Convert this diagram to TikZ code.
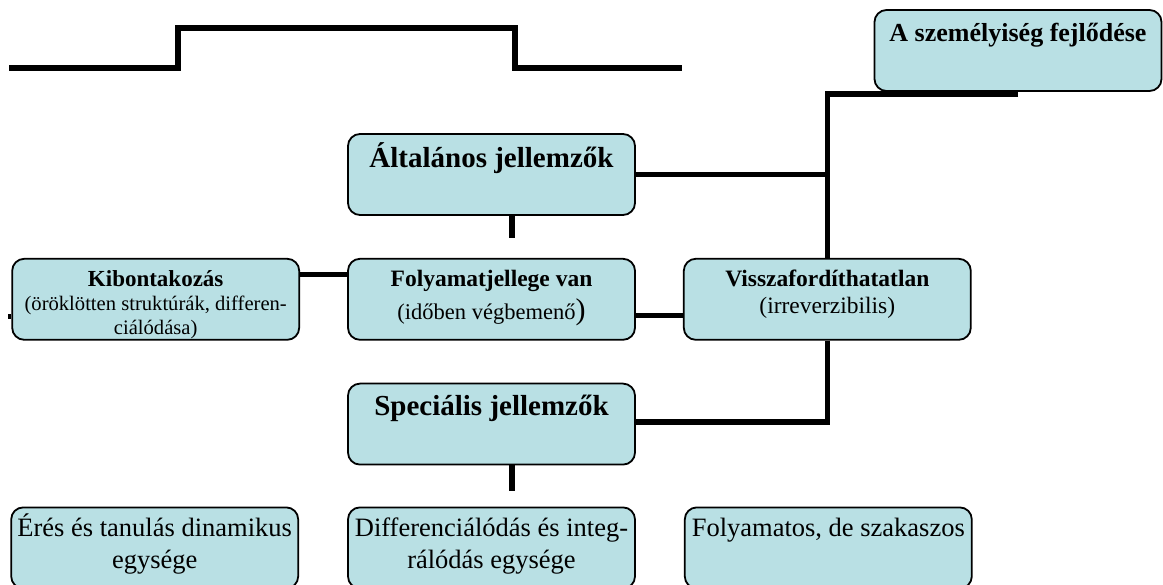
\documentclass[tikz,border=0pt]{standalone}
\usepackage{fontspec}
\setmainfont{Liberation Serif}
\usepackage{tikz}
\usetikzlibrary{positioning}
\definecolor{boxfill}{RGB}{185,224,228}
\newcommand{\boxtext}[3]{\parbox[t][81pt][t]{287pt}{\centering\fontsize{23}{#2}\selectfont\rule{0pt}{#1}#3}}

\begin{document}
\begin{tikzpicture}[x=1pt, y=1pt, node distance=42pt, semithick]
	\tikzstyle{box}=[draw, rounded corners=12pt, fill=boxfill, line width=1.8pt, inner sep=0pt]
	\tikzstyle{conn}=[line width=5.5pt]
	\useasboundingbox (0,0) rectangle (1163,-585);

	\node[box] (szem) at (1018,-50.5) {\boxtext{32pt}{30pt}{\fontsize{26}{30}\selectfont\bfseries A személyiség fejlődése}};
	\node[box] (gen) at (491.5,-174.5) {\boxtext{34pt}{32pt}{\fontsize{29}{32}\selectfont\bfseries Általános jellemzők}};
	\node[box] (fol) [below=of gen] {\boxtext{28pt}{24pt}{{\fontsize{23.5}{24}\selectfont\bfseries Folyamatjellege van}\\[6pt] \fontsize{22.5}{24}\selectfont (időben végbemenő{\fontsize{30}{24}\selectfont)}}};
	\node[box] (kib) [left=47pt of fol] {\boxtext{28pt}{24pt}{{\fontsize{23}{24}\selectfont\bfseries Kibontakozás}\\ \fontsize{20.6}{24}\selectfont (öröklötten struktúrák, differen-\\ciálódása)}};
	\node[box] (vis) [right=47pt of fol] {\boxtext{28pt}{27pt}{{\fontsize{23.5}{27}\selectfont\bfseries Visszafordíthatatlan}\\ \fontsize{23.5}{27}\selectfont (irreverzibilis)}};
	\node[box] (spec) [below=of fol] {\boxtext{32pt}{32pt}{\fontsize{29}{32}\selectfont\bfseries Speciális jellemzők}};

	\node[box] (diff) [below=41pt of spec] {\boxtext{29pt}{32pt}{\fontsize{26.5}{32}\selectfont Differenciálódás és integ-\\rálódás egysége}};
	\node[box] (eres) [left=48pt of diff] {\boxtext{29pt}{32pt}{\fontsize{26.5}{32}\selectfont Érés és tanulás dinamikus\\egysége}};
	\node[box] (szak) [right=48pt of diff] {\boxtext{29pt}{32pt}{\fontsize{26.5}{32}\selectfont Folyamatos, de szakaszos}};

	\coordinate[below=22pt of gen.south, xshift=20.5pt] (genstub);
	\coordinate[below=25pt of spec.south, xshift=20.5pt] (specstub);
	\coordinate[left=3pt of kib.west, yshift=-17pt] (kibstub);

	\draw[conn] (9,-68) -- (178,-68) -- (178,-28) -- (515,-28) -- (515,-68) -- (682,-68);

	\draw[conn] ([yshift=-2pt]szem.south) -| (vis.north);
	\draw[conn] (gen.east) -- (gen.east -| vis.north);
	\draw[conn] ([xshift=20.5pt]gen.south) -- (genstub);
	\draw[conn] ([yshift=25pt]kib.east) -- ([yshift=25pt]fol.west);
	\draw[conn] ([yshift=-16pt]fol.east) -- ([yshift=-16pt]vis.west);
	\draw[conn] ([yshift=-17pt]kib.west) -- (kibstub);
	\draw[conn] (vis.south) |- ([yshift=2pt]spec.east);
	\draw[conn] ([xshift=20.5pt]spec.south) -- (specstub);
\end{tikzpicture}
\end{document}
